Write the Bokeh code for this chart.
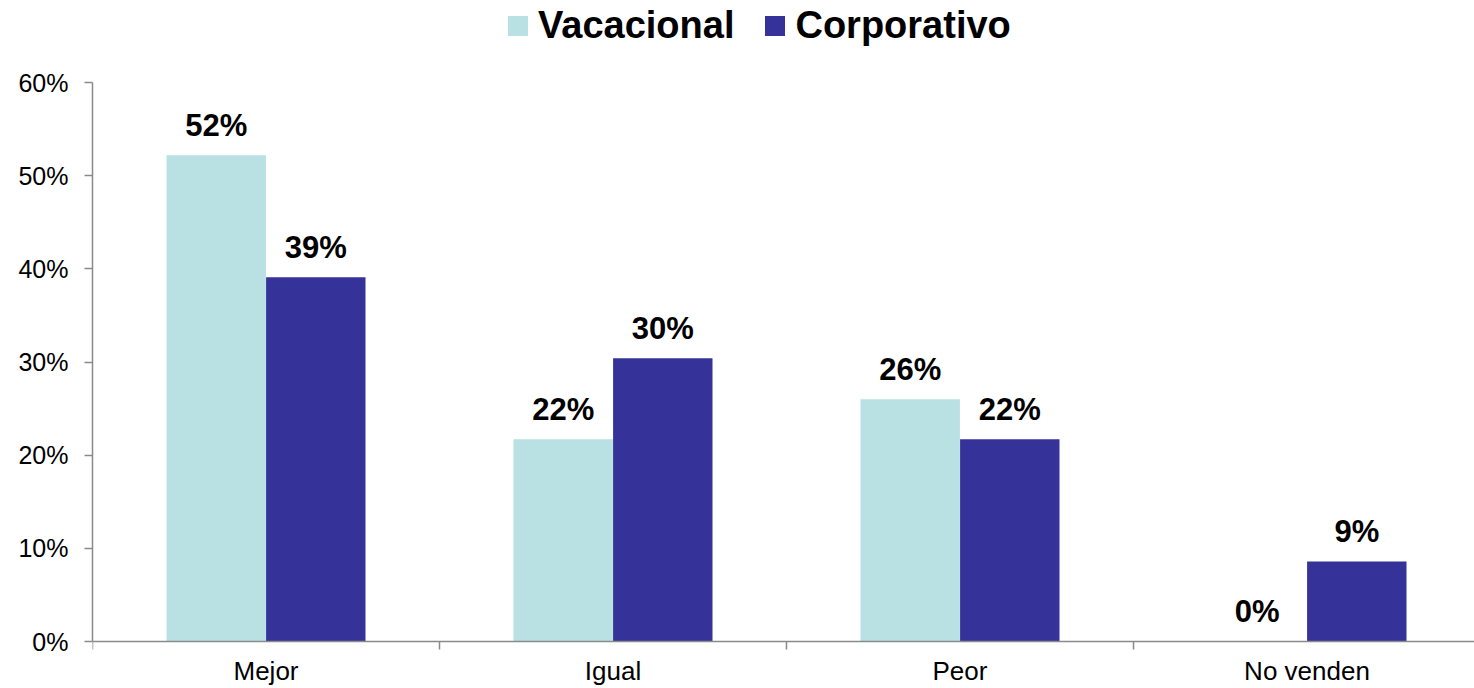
from bokeh.plotting import figure
from bokeh.models import (Range1d, FixedTicker, LinearAxis, Legend, LegendItem,
                          ColumnDataSource, PrintfTickFormatter)
from bokeh.core.properties import value
from bokeh.embed import file_html
from bokeh.resources import INLINE

# ---- data ----
categories = ["Mejor", "Igual", "Peor", "No venden"]
vacacional = [52.2, 21.7, 26.0, 0.0]
corporativo = [39.1, 30.4, 21.7, 8.6]
series_names = ["Vacacional", "Corporativo"]
y_ticks = [0, 10, 20, 30, 40, 50, 60]

# ---- style / layout ----
colors = ["#B9E0E3", "#353399"]
axis_color = "#8A8A8A"
FONT = "Liberation Sans"
W, H = 1474, 688
left_border = 92
zero_px = 641            # screen row of the 0 baseline
px_per_unit = 559 / 60.0
px_per_cat = 347.0
x_end = (W - left_border) / px_per_cat
y_end = zero_px / px_per_unit
y_start = -(H - zero_px) / px_per_unit
bar_w = 0.2865
offsets = [0.3565, 0.6435]

p = figure(width=W, height=H, output_backend="svg", toolbar_location=None,
           x_axis_type=None, y_axis_type=None,
           x_range=Range1d(0, x_end), y_range=Range1d(y_start, y_end),
           min_border_left=left_border, min_border_bottom=0,
           min_border_top=0, min_border_right=0)
p.outline_line_color = None
p.xgrid.visible = False
p.ygrid.visible = False

renderers = []
for k, vals in enumerate([vacacional, corporativo]):
    xs = [i + offsets[k] for i in range(len(categories))]
    src = ColumnDataSource(dict(x=xs, top=vals,
                                label=[f"{round(v)}%" for v in vals]))
    r = p.vbar(x="x", top="top", bottom=0, width=bar_w, source=src,
               fill_color=colors[k], line_color=None)
    renderers.append(r)
    p.text(x="x", y="top", text="label", source=src,
           text_font=value(FONT), text_font_style="bold",
           text_font_size="31px", text_align="center",
           text_baseline="alphabetic", y_offset=-30, text_color="black")

# y axis
yaxis = LinearAxis(ticker=FixedTicker(ticks=y_ticks),
                   formatter=PrintfTickFormatter(format="%d%%"),
                   bounds=(0, 60))
yaxis.axis_line_color = axis_color
yaxis.axis_line_width = 1.5
yaxis.major_tick_line_color = axis_color
yaxis.major_tick_line_width = 1.5
yaxis.major_tick_out = 8
yaxis.major_tick_in = 0
yaxis.minor_tick_line_color = None
yaxis.major_label_standoff = 16
yaxis.major_label_text_font = FONT
yaxis.major_label_text_font_size = "25px"
yaxis.major_label_text_color = "black"
p.add_layout(yaxis, "left")

# x axis drawn at the 0 baseline: labels at group centers, ticks at boundaries
centers = [i + 0.5 for i in range(len(categories))]
xaxis = LinearAxis(ticker=FixedTicker(ticks=centers,
                                      minor_ticks=list(range(len(categories) + 1))),
                   fixed_location=0)
xaxis.major_label_overrides = {c: name for c, name in zip(centers, categories)}
xaxis.axis_line_color = axis_color
xaxis.axis_line_width = 1.5
xaxis.major_tick_line_color = None
xaxis.major_tick_out = 0
xaxis.major_tick_in = 0
xaxis.minor_tick_line_color = axis_color
xaxis.minor_tick_line_width = 1.5
xaxis.minor_tick_out = 8
xaxis.minor_tick_in = 0
xaxis.major_label_standoff = 6
xaxis.major_label_text_font = FONT
xaxis.major_label_text_font_size = "26px"
xaxis.major_label_text_color = "black"
p.add_layout(xaxis, "below")

legend = Legend(items=[LegendItem(label=series_names[k], renderers=[renderers[k]])
                       for k in range(2)],
                orientation="horizontal", location=(413, 641),
                padding=0, margin=0, spacing=28, label_standoff=8,
                glyph_width=25, glyph_height=25,
                label_text_font=FONT, label_text_font_style="bold",
                label_text_font_size="38px", label_text_color="black",
                background_fill_alpha=0, border_line_color=None)
p.add_layout(legend)

open("out.html", "w").write(file_html(p, INLINE))
